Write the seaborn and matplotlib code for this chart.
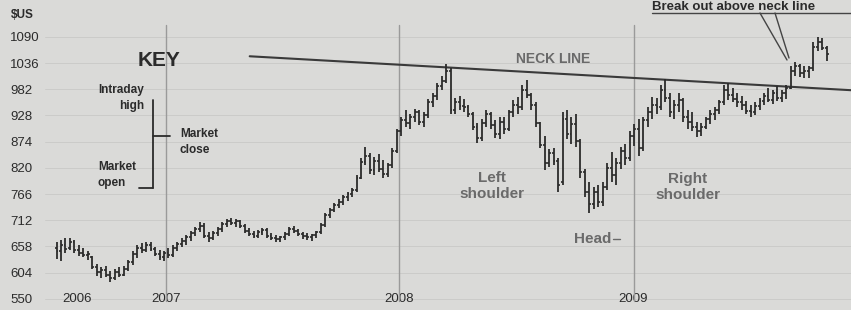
import numpy as np
import pandas as pd
import seaborn as sns
import matplotlib.pyplot as plt
from matplotlib.lines import Line2D

# weekly bars
start_week = '2006-07-14'
opens = [655, 648, 660, 655, 668, 650, 645, 640, 636, 615,
         605, 610, 600, 592, 606, 600, 612, 626, 642, 655,
         650, 662, 652, 642, 636, 644, 640, 655, 664, 670,
         678, 686, 694, 700, 680, 675, 686, 694, 704, 710,
         706, 710, 700, 690, 684, 680, 688, 692, 680, 676,
         674, 677, 684, 694, 690, 684, 680, 678, 681, 688,
         702, 722, 734, 744, 750, 760, 766, 774, 800, 832,
         845, 815, 835, 818, 808, 826, 855, 895, 918, 912,
         925, 935, 915, 928, 955, 968, 988, 1000, 1020, 940,
         955, 948, 945, 930, 905, 882, 912, 930, 908, 890,
         915, 900, 935, 950, 945, 980, 970, 950, 912, 868,
         830, 850, 835, 790, 920, 890, 910, 875, 812, 770,
         745, 770, 750, 780, 820, 805, 830, 855, 840, 885,
         900, 860, 918, 935, 950, 945, 980, 965, 935, 950,
         960, 925, 915, 905, 895, 905, 920, 930, 940, 955,
         980, 970, 962, 955, 950, 938, 935, 948, 958, 968,
         960, 975, 965, 975, 985, 1020, 1030, 1015, 1020, 1025,
         1070, 1080, 1068]
closes = [648, 660, 652, 668, 650, 645, 640, 642, 615, 605,
          610, 600, 592, 606, 600, 612, 626, 642, 655, 650,
          662, 652, 642, 636, 644, 640, 655, 664, 670, 678,
          686, 694, 700, 680, 675, 686, 694, 704, 710, 706,
          710, 700, 690, 684, 680, 688, 692, 680, 676, 674,
          677, 684, 694, 690, 684, 680, 678, 681, 688, 702,
          722, 734, 744, 750, 760, 766, 774, 800, 832, 845,
          815, 835, 818, 808, 826, 855, 895, 918, 912, 925,
          935, 915, 928, 955, 968, 988, 1000, 1020, 940, 955,
          948, 945, 930, 905, 882, 912, 930, 908, 890, 915,
          900, 935, 950, 945, 980, 970, 950, 912, 868, 830,
          850, 835, 785, 920, 890, 910, 875, 812, 770, 745,
          770, 750, 780, 820, 805, 830, 855, 840, 885, 900,
          860, 918, 935, 950, 945, 980, 965, 935, 950, 960,
          925, 915, 905, 895, 905, 920, 930, 940, 955, 980,
          970, 962, 955, 950, 938, 935, 948, 958, 968, 960,
          975, 965, 975, 985, 1020, 1030, 1015, 1020, 1025, 1070,
          1080, 1068, 1055]
highs = [668, 672, 675, 676, 672, 660, 655, 648, 638, 622,
         615, 618, 608, 612, 616, 618, 630, 648, 662, 665,
         668, 667, 656, 650, 648, 655, 660, 668, 675, 682,
         690, 698, 708, 706, 688, 690, 698, 708, 714, 716,
         714, 713, 705, 696, 690, 692, 696, 695, 686, 682,
         680, 688, 698, 700, 694, 688, 686, 684, 690, 706,
         726, 738, 748, 756, 764, 770, 778, 806, 840, 862,
         850, 842, 848, 836, 830, 860, 900, 925, 940, 930,
         942, 940, 935, 962, 975, 995, 1010, 1034, 1025, 965,
         968, 962, 950, 935, 912, 920, 940, 936, 918, 925,
         925, 940, 960, 966, 990, 1002, 975, 955, 915, 885,
         858, 860, 840, 935, 940, 925, 930, 880, 818, 790,
         780, 785, 790, 830, 852, 840, 862, 870, 895, 910,
         920, 925, 945, 966, 965, 990, 1004, 975, 960, 975,
         965, 940, 935, 915, 912, 925, 940, 945, 960, 990,
         995, 985, 975, 968, 958, 950, 955, 965, 975, 985,
         980, 988, 980, 990, 1030, 1038, 1035, 1030, 1030, 1080,
         1090, 1088, 1072]
lows = [632, 628, 645, 650, 645, 638, 636, 630, 612, 598,
        592, 595, 585, 588, 595, 598, 608, 620, 635, 645,
        646, 648, 638, 630, 628, 635, 636, 648, 656, 662,
        670, 680, 688, 675, 668, 672, 680, 688, 698, 702,
        698, 695, 686, 680, 675, 676, 682, 676, 672, 668,
        668, 672, 680, 686, 680, 674, 672, 670, 676, 684,
        698, 716, 728, 738, 744, 752, 760, 770, 796, 826,
        808, 806, 812, 800, 802, 820, 850, 885, 905, 900,
        915, 908, 905, 922, 945, 960, 980, 995, 930, 930,
        940, 935, 925, 898, 872, 876, 905, 900, 882, 880,
        890, 895, 925, 930, 940, 965, 940, 905, 860, 815,
        822, 825, 770, 785, 880, 870, 862, 800, 760, 727,
        735, 740, 742, 775, 790, 785, 818, 825, 835, 865,
        845, 855, 905, 920, 930, 940, 955, 925, 920, 935,
        915, 900, 895, 884, 885, 900, 910, 918, 932, 950,
        960, 955, 945, 940, 930, 925, 928, 940, 950, 955,
        952, 958, 955, 962, 982, 1010, 1008, 1005, 1005, 1020,
        1060, 1062, 1040]

y_ticks = [550, 604, 658, 712, 766, 820, 874, 928, 982, 1036, 1090]
year_labels = ['2006', '2007', '2008', '2009']
year_label_dates = ['2006-08-15', '2007-01-01', '2008-01-01', '2009-01-01']
year_lines = ['2007-01-01', '2008-01-01', '2009-01-01']
neck_dates = ['2007-05-12', '2009-12-08']
neck_prices = [1050, 980]

bg = '#dadad8'
ink = '#2b2b2b'
soft = '#6a6a6a'

sns.set_style('white', {'axes.facecolor': bg, 'figure.facecolor': bg})
plt.rcParams['font.family'] = ['Liberation Sans', 'DejaVu Sans']

W, H = 851, 310
fig = plt.figure(figsize=(W / 100, H / 100), dpi=100)
ax = fig.add_axes([45 / W, 0, 1 - 45 / W, 1])


def px(x, y):
    return x / W, 1 - y / H


df = pd.DataFrame({'date': pd.date_range(start_week, periods=len(closes), freq='7D'),
                   'open': opens, 'high': highs, 'low': lows, 'close': closes})
tick = pd.Timedelta(days=3)

for y in y_ticks:
    ax.axhline(y, color='#cbcbc9', lw=0.7, zorder=0)
for d in year_lines:
    ax.axvline(pd.Timestamp(d), ymin=0.03, ymax=0.92, color='#9a9a9a', lw=1.0, zorder=1)

sns.lineplot(x=pd.to_datetime(neck_dates), y=neck_prices, ax=ax, color='#3a3a3a', lw=1.5, zorder=2)

ax.vlines(df['date'], df['low'], df['high'], color=ink, lw=1.3, zorder=3)
ax.hlines(df['open'], df['date'] - tick, df['date'], color=ink, lw=1.2, zorder=3)
ax.hlines(df['close'], df['date'], df['date'] + tick, color=ink, lw=1.2, zorder=3)

ax.set_xlim(pd.Timestamp('2006-06-26'), pd.Timestamp('2009-12-07'))
ax.set_ylim(527, 1166)
ax.set_yticks(y_ticks)
ax.set_yticklabels([str(v) for v in y_ticks], ha='left', fontsize=9.5, color=ink)
ax.tick_params(axis='y', length=0, pad=25)
ax.set_xticks(pd.to_datetime(year_label_dates))
ax.set_xticklabels(year_labels, fontsize=9.5, color=ink)
ax.tick_params(axis='x', length=0, pad=-12)
for s in ax.spines.values():
    s.set_visible(False)
ax.set_xlabel('')
ax.set_ylabel('')

fig.text(*px(11, 15), '$US', fontsize=8.5, fontweight='bold', color=ink, va='center')

# key
fig.text(*px(159, 61), 'KEY', fontsize=15, fontweight='bold', color=ink, ha='center', va='center')
fig.text(*px(144, 84), 'Intraday\nhigh', fontsize=8.5, fontweight='bold', color=ink,
         ha='right', va='top', linespacing=1.4)
fig.text(*px(180, 128), 'Market\nclose', fontsize=8.5, fontweight='bold', color=ink,
         ha='left', va='top', linespacing=1.4)
fig.text(*px(98, 161), 'Market\nopen', fontsize=8.5, fontweight='bold', color=ink,
         ha='left', va='top', linespacing=1.4)
for (x0, y0), (x1, y1) in [((153, 100), (153, 188)), ((153, 136), (170, 136)), ((139, 188), (153, 188))]:
    a, b = px(x0, y0)
    c, d = px(x1, y1)
    fig.add_artist(Line2D([a, c], [b, d], color=ink, lw=1.3))

# pattern labels
fig.text(*px(553, 59), 'NECK LINE', fontsize=10, fontweight='bold', color=soft, ha='center', va='center')
fig.text(*px(492, 186), 'Left\nshoulder', fontsize=11, fontweight='bold', color=soft,
         ha='center', va='center', linespacing=1.1)
fig.text(*px(593, 239), 'Head', fontsize=11, fontweight='bold', color=soft, ha='center', va='center')
fig.text(*px(688, 187), 'Right\nshoulder', fontsize=11, fontweight='bold', color=soft,
         ha='center', va='center', linespacing=1.1)
a, b = px(613, 239)
c, d = px(620, 239)
fig.add_artist(Line2D([a, c], [b, d], color=soft, lw=1.0))

# break-out callout
fig.text(*px(652, 0.5), 'Break out above neck line', fontsize=9.5, fontweight='bold', color=ink,
         ha='left', va='top')
for (x0, y0), (x1, y1) in [((652, 13), (851, 13)), ((760, 13), (787, 60)), ((775, 13), (789, 58))]:
    a, b = px(x0, y0)
    c, d = px(x1, y1)
    fig.add_artist(Line2D([a, c], [b, d], color='#444444', lw=1.0))

fig.savefig('out.png', dpi=100, facecolor=bg)
